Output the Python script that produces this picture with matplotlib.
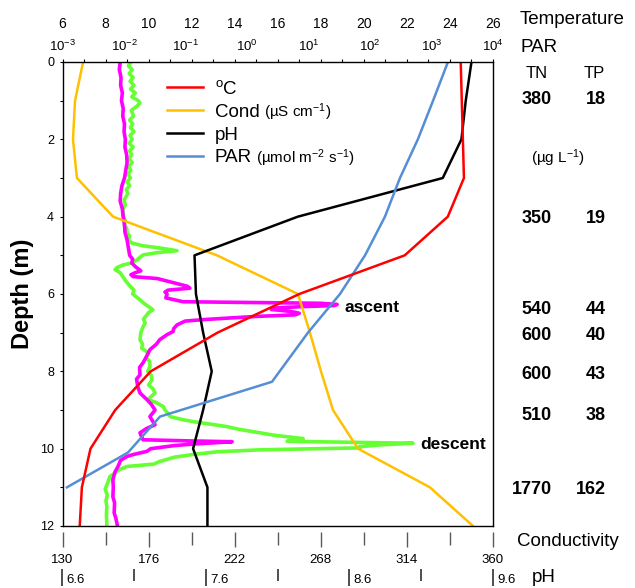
import numpy as np
import matplotlib.pyplot as plt
from matplotlib.ticker import MultipleLocator, NullLocator
from matplotlib.transforms import blended_transform_factory

plt.rcParams['font.family'] = ['Liberation Sans', 'DejaVu Sans']
plt.rcParams['mathtext.fontset'] = 'custom'
plt.rcParams['mathtext.rm'] = 'Liberation Sans'
plt.rcParams['mathtext.it'] = 'Liberation Sans:italic'
plt.rcParams['mathtext.bf'] = 'Liberation Sans:bold'

# sonde profile, 1 m steps
depth = [0, 1, 2, 3, 4, 5, 6, 7, 8, 9, 10, 11, 12]
temp = [24.5, 24.55, 24.6, 24.65, 23.9, 21.9, 17.0, 13.2, 10.1, 8.45, 7.3, 6.9, 6.8]
cond = [141.0, 136.7, 135.6, 137.7, 157.0, 212.5, 255.8, 262.2, 268.1, 274.5, 287.9, 326.3, 349.3]
ph = [9.45, 9.41, 9.38, 9.25, 8.24, 7.52, 7.53, 7.58, 7.64, 7.58, 7.51, 7.61, 7.61]

# light profile
par_depth = [0, 1, 2, 3, 4, 5, 6, 7, 8.27, 9.17, 10.1, 11.0]
par = [1850, 1060, 600, 307, 175, 83, 32.5, 9.8, 2.55, 0.0385, 0.0116, 0.00118]

# high resolution fluorescence profiles (relative units)
asc_depth = [0.0, 0.2, 0.4, 0.6, 0.8, 1.0, 1.2, 1.4, 1.6, 1.8, 2.0, 2.2, 2.4, 2.6, 2.8, 3.0,
             3.2, 3.4, 3.6, 3.8, 4.0, 4.2, 4.4, 4.6, 4.8, 5.0, 5.1, 5.2, 5.3, 5.4, 5.45, 5.5,
             5.55, 5.6, 5.7, 5.8, 5.85, 5.9, 5.95, 6.0, 6.1, 6.2, 6.24, 6.27, 6.3, 6.33, 6.36,
             6.4, 6.45, 6.5, 6.54, 6.58, 6.62, 6.66, 6.7, 6.8, 6.9, 6.97, 7.05, 7.18, 7.3, 7.44,
             7.6, 7.78, 7.9, 8.09, 8.2, 8.4, 8.56, 8.73, 8.85, 9.0, 9.1, 9.17, 9.3, 9.38, 9.48,
             9.59, 9.7, 9.77, 9.8, 9.82, 9.85, 9.88, 9.92, 10.0, 10.07, 10.15, 10.2, 10.3, 10.46,
             10.6, 10.8, 11.0, 11.24, 11.4, 11.66, 11.8, 11.96]
asc_val = [13.4, 13.2, 13.6, 13.5, 13.9, 13.7, 14.1, 14.0, 14.4, 14.3, 14.6, 14.5, 14.9, 15.0, 14.7, 14.4,
           13.8, 13.5, 13.4, 13.9, 14.1, 14.4, 14.5, 15.0, 15.3, 15.6, 16.3, 16.1, 17.0, 18.2, 16.9, 15.9,
           16.4, 22.0, 25.5, 29.0, 29.6, 24.5, 23.8, 24.3, 24.0, 28.0, 60.0, 63.8, 63.0, 55.0, 49.8,
           48.5, 53.0, 55.0, 54.0, 45.0, 38.9, 33.0, 28.5, 26.6, 25.8, 25.7, 24.3, 22.6, 21.8, 20.3,
           19.6, 18.7, 17.9, 18.0, 17.2, 17.5, 18.0, 19.6, 20.6, 21.5, 20.8, 20.3, 21.0, 21.5, 19.5,
           18.0, 18.4, 18.7, 30.0, 39.4, 35.0, 30.5, 26.0, 20.5, 19.6, 16.5, 15.0, 13.5, 12.9,
           12.2, 11.7, 11.8, 11.7, 12.1, 12.0, 12.4, 12.7]

desc_depth = [0.0, 0.1, 0.2, 0.3, 0.4, 0.5, 0.6, 0.7, 0.8, 0.9, 1.0, 1.06, 1.15, 1.25, 1.4, 1.5,
              1.6, 1.7, 1.8, 1.9, 2.0, 2.1, 2.2, 2.3, 2.4, 2.5, 2.6, 2.7, 2.8, 2.9, 3.0, 3.1, 3.2,
              3.3, 3.4, 3.57, 3.7, 3.8, 4.0, 4.1, 4.2, 4.3, 4.42, 4.5, 4.6, 4.68, 4.75, 4.81, 4.88,
              4.93, 4.99, 5.05, 5.12, 5.2, 5.25, 5.32, 5.37, 5.45, 5.55, 5.65, 5.8, 5.9, 6.0, 6.15,
              6.25, 6.35, 6.41, 6.48, 6.54, 6.65, 6.75, 6.85, 7.0, 7.18, 7.3, 7.4, 7.52, 7.65, 7.75,
              7.88, 8.0, 8.1, 8.22, 8.35, 8.45, 8.56, 8.65, 8.73, 8.8, 8.91, 9.0, 9.1, 9.17, 9.24,
              9.3, 9.36, 9.43, 9.5, 9.59, 9.65, 9.74, 9.78, 9.81, 9.84, 9.86, 9.9, 9.95, 9.98,
              10.01, 10.03, 10.08, 10.15, 10.22, 10.33, 10.4, 10.46, 10.55, 10.6, 10.72, 10.85,
              11.05, 11.2, 11.35, 11.5, 11.7, 11.96]
desc_val = [15.9, 15.3, 16.2, 15.5, 16.4, 15.7, 16.6, 15.8, 16.9, 16.1, 17.6, 18.0, 17.2, 16.0, 16.5, 15.6,
            16.3, 15.8, 16.6, 15.7, 16.2, 15.5, 16.4, 15.6, 16.1, 15.4, 16.2, 15.3, 15.9, 15.2, 15.8, 15.0, 15.6,
            14.8, 15.2, 14.3, 14.6, 14.0, 14.1, 14.6, 14.3, 14.9, 15.0, 15.6, 15.3, 16.1, 18.5, 22.6, 26.6,
            22.0, 18.7, 18.0, 17.3, 16.0, 14.0, 12.6, 12.2, 13.4, 14.0, 14.6, 15.7, 16.6, 16.3, 18.0,
            19.0, 20.3, 21.0, 20.0, 19.6, 18.8, 19.2, 18.7, 18.2, 18.0, 18.6, 18.4, 19.9, 19.4, 20.3,
            20.3, 19.8, 20.6, 20.8, 20.0, 21.0, 21.5, 20.6, 19.9, 21.6, 23.4, 23.8, 24.6, 25.0, 27.5,
            30.3, 34.0, 38.2, 41.0, 45.9, 49.0, 55.9, 53.5, 52.2, 70.0, 81.4, 74.0, 69.0, 69.1,
            55.0, 45.9, 36.0, 30.3, 26.0, 22.6, 21.2, 15.0, 13.0, 12.6, 11.0, 10.6,
            9.9, 10.4, 10.1, 10.3, 10.2, 10.3]

# nutrient samples (ug/L)
sample_depth = [0.98, 4.05, 6.4, 7.08, 8.07, 9.15, 11.05]
tn = [380, 350, 540, 600, 600, 510, 1770]
tp = [18, 19, 44, 40, 43, 38, 162]

cond_ticks = [130, 176, 222, 268, 314, 360]
cond_minor = [153, 199, 245, 291, 337]
ph_ticks = [6.6, 7.6, 8.6, 9.6]
ph_minor = [7.1, 8.1, 9.1]
par_ticks = [1e-3, 1e-2, 1e-1, 1e0, 1e1, 1e2, 1e3, 1e4]

W, H = 635, 588
PT = 0.72  # points per pixel at 100 dpi
fig = plt.figure(figsize=(W / 100, H / 100), dpi=100)
L, R, T, B = 62.5, 493, 62, 526
ax = fig.add_axes([L / W, 1 - B / H, (R - L) / W, (B - T) / H])

ax_fl = ax.twiny()
ax_c = ax.twiny()
ax_p = ax.twiny()
ax_par = ax.twiny()
for a in (ax_fl, ax_c, ax_p, ax_par):
    for s in a.spines.values():
        s.set_visible(False)
ax.set_zorder(5)
ax.patch.set_visible(False)

# fluorescence traces
ax_fl.plot(desc_val, desc_depth, color='#66FF33', lw=2.6)
ax_fl.plot(asc_val, asc_depth, color='#FF00FF', lw=2.6)
ax_fl.set_xlim(0, 100)
ax_fl.xaxis.set_visible(False)
ax_fl.text(65.6, 6.34, 'ascent', fontsize=12.5, fontweight='bold', va='center', ha='left')
ax_fl.text(83.0, 9.88, 'descent', fontsize=12.5, fontweight='bold', va='center', ha='left')

# conductivity
l_cond, = ax_c.plot(cond, depth, color='#FFC000', lw=1.8)
ax_c.set_xlim(130, 360)
ax_c.xaxis.set_ticks_position('bottom')
ax_c.spines['bottom'].set_position(('outward', 6 * PT))
ax_c.set_xticks(cond_ticks)
ax_c.set_xticks(cond_minor, minor=True)
ax_c.tick_params(axis='x', which='major', direction='out', length=15 * PT, width=1,
                 color='#595959', pad=7 * PT, labelsize=9.5)
ax_c.tick_params(axis='x', which='minor', direction='out', length=12.5 * PT, width=1,
                 color='#595959')

# pH
l_ph, = ax_p.plot(ph, depth, color='black', lw=1.8)
ax_p.set_xlim(6.6, 9.6)
ax_p.xaxis.set_ticks_position('bottom')
ax_p.spines['bottom'].set_position(('outward', 43 * PT))
ax_p.set_xticks(ph_ticks)
ax_p.set_xticks(ph_minor, minor=True)
ax_p.tick_params(axis='x', which='major', direction='out', length=17 * PT, width=1.3,
                 color='#404040', labelbottom=False)
ax_p.tick_params(axis='x', which='minor', direction='out', length=12 * PT, width=1.3,
                 color='#404040')
for v in ph_ticks:
    ax_p.annotate(f'{v:.1f}', xy=(v, 0), xycoords=('data', 'axes fraction'),
                  xytext=(4, -57), textcoords='offset pixels', ha='left', va='baseline',
                  fontsize=9.5, annotation_clip=False)

# PAR (log)
l_par, = ax_par.plot(par, par_depth, color='#558ED5', lw=1.8)
ax_par.set_xscale('log')
ax_par.set_xlim(1e-3, 1e4)
ax_par.xaxis.set_ticks_position('top')
ax_par.set_xticks(par_ticks)
ax_par.xaxis.set_minor_locator(NullLocator())
ax_par.tick_params(axis='x', which='both', length=0, pad=8 * PT, labelsize=9.5)

# temperature on the main axes
l_temp, = ax.plot(temp, depth, color='#FF0000', lw=1.8)
ax.set_xlim(6, 26)
ax.set_ylim(12, 0)
ax.xaxis.tick_top()
ax.xaxis.set_major_locator(MultipleLocator(2))
ax.xaxis.set_minor_locator(MultipleLocator(1))
ax.tick_params(axis='x', which='both', direction='out', length=3.5 * PT, width=0.8,
               pad=28 * PT, labelsize=10, bottom=False, labelbottom=False)
ax.yaxis.set_major_locator(MultipleLocator(2))
ax.yaxis.set_minor_locator(MultipleLocator(1))
ax.tick_params(axis='y', which='both', direction='out', length=3.5 * PT, width=0.8,
               labelsize=9, right=False)
for s in ax.spines.values():
    s.set_linewidth(1.0)
ax.set_ylabel('Depth (m)', fontsize=17, fontweight='bold')
ax.yaxis.set_label_coords((34 - L) / (R - L), 0.5)

leg = ax.legend([l_temp, l_cond, l_ph, l_par], [r'$^{\mathrm{o}}$C', 'Cond', 'pH', 'PAR'],
                loc='upper left', bbox_to_anchor=((167 - L) / (R - L), 1 - (80 - T) / (B - T)),
                frameon=False, fontsize=13.5, handlelength=1.92, handletextpad=0.64,
                labelspacing=0.3, borderpad=0, borderaxespad=0)

# units after legend labels
fig.canvas.draw()
units = {1: r'(µS cm$^{-1}$)', 3: r'(µmol m$^{-2}$ s$^{-1}$)'}
for i, u in units.items():
    bb = leg.get_texts()[i].get_window_extent()
    fig.text((bb.x1 + 4) / W, (bb.y0 + bb.y1) / 2 / H, u, fontsize=11, ha='left', va='center')

# right hand annotations
fig.text(520 / W, 1 - 20 / H, 'Temperature', fontsize=13.5, ha='left', va='center')
fig.text(520 / W, 1 - 47 / H, 'PAR', fontsize=13.5, ha='left', va='center')
fig.text(537 / W, 1 - 73 / H, 'TN', fontsize=12, ha='center', va='center')
fig.text(594 / W, 1 - 73 / H, 'TP', fontsize=12, ha='center', va='center')
fig.text(558 / W, 1 - 158 / H, r'(µg L$^{-1}$)', fontsize=11, ha='center', va='center')
fig.text(517 / W, 1 - 542 / H, 'Conductivity', fontsize=13.5, ha='left', va='center')
fig.text(532 / W, 1 - 578 / H, 'pH', fontsize=13.5, ha='left', va='center')

trans = blended_transform_factory(fig.transFigure, ax.transData)
for d, n, p in zip(sample_depth, tn, tp):
    ax.text(552 / W, d, str(n), transform=trans, ha='right', va='center',
            fontsize=13, fontweight='bold')
    ax.text(606 / W, d, str(p), transform=trans, ha='right', va='center',
            fontsize=13, fontweight='bold')

fig.savefig('out.png', dpi=100)
